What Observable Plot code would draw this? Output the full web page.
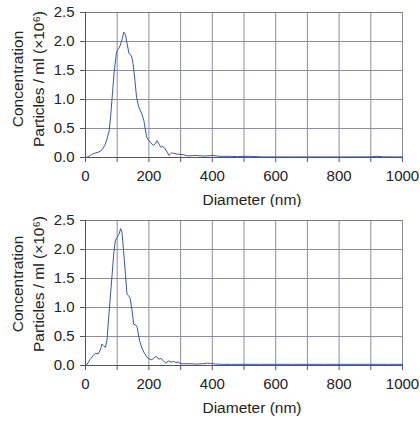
<!DOCTYPE html>
<html>
<head>
<meta charset="utf-8">
<script src="https://cdn.jsdelivr.net/npm/d3@7"></script>
<script src="https://cdn.jsdelivr.net/npm/@observablehq/plot@0.6"></script>
<style>
  html, body { margin: 0; padding: 0; background: #fff; }
  #chart { width: 420px; }
  #chart svg { display: block; }
</style>
</head>
<body>
<div id="chart"></div>
<script>
// Sample 1 (top panel): diameter (nm) and concentration (×10^6 particles/ml)
const topDiameter = [0, 8, 19, 29, 40, 50, 61, 68, 75, 80, 85, 90, 98, 105, 110, 116, 121, 126, 131, 137, 145, 150, 156, 161, 168, 177, 184, 193, 200, 206, 214, 219, 226, 232, 237, 243, 250, 258, 263, 272, 279, 288, 298, 308, 319, 330, 345, 360, 375, 390, 405, 415, 425, 440, 460, 480, 500, 520, 540, 560, 600, 650, 700, 750, 800, 850, 900, 920, 940, 980, 1000];
const topConc = [0.005, 0.01, 0.05, 0.075, 0.09, 0.12, 0.21, 0.32, 0.47, 0.76, 1.1, 1.45, 1.82, 1.88, 1.94, 2.05, 2.16, 2.12, 1.97, 1.8, 1.75, 1.62, 1.33, 1.04, 0.87, 0.76, 0.64, 0.35, 0.29, 0.25, 0.21, 0.23, 0.29, 0.23, 0.18, 0.19, 0.16, 0.09, 0.035, 0.08, 0.07, 0.06, 0.055, 0.05, 0.03, 0.03, 0.035, 0.03, 0.025, 0.03, 0.035, 0.025, 0.02, 0.02, 0.02, 0.015, 0.02, 0.02, 0.015, 0.01, 0.01, 0.01, 0.01, 0.01, 0.01, 0.01, 0.012, 0.02, 0.012, 0.01, 0.01];

// Sample 2 (bottom panel)
const bottomDiameter = [3, 14, 24, 31, 40, 47, 52, 57, 63, 68, 73, 79, 84, 89, 94, 100, 106, 111, 115, 120, 126, 131, 136, 141, 147, 152, 158, 163, 171, 178, 186, 194, 202, 209, 214, 223, 230, 238, 246, 254, 261, 270, 278, 285, 292, 301, 317, 330, 350, 370, 385, 395, 410, 430, 460, 500, 550, 600, 650, 700, 750, 800, 850, 900, 950, 1000];
const bottomConc = [0.01, 0.1, 0.17, 0.21, 0.2, 0.27, 0.37, 0.34, 0.31, 0.45, 0.82, 1.23, 1.57, 1.92, 2.15, 2.21, 2.27, 2.36, 2.3, 1.98, 1.57, 1.23, 1.2, 1.16, 0.94, 0.71, 0.7, 0.66, 0.42, 0.3, 0.21, 0.14, 0.11, 0.1, 0.12, 0.16, 0.11, 0.12, 0.08, 0.04, 0.08, 0.06, 0.07, 0.05, 0.06, 0.03, 0.03, 0.03, 0.025, 0.03, 0.04, 0.035, 0.025, 0.02, 0.02, 0.02, 0.02, 0.02, 0.02, 0.02, 0.02, 0.02, 0.02, 0.02, 0.02, 0.02];

const xTicks = [0, 100, 200, 300, 400, 500, 600, 700, 800, 900, 1000];
const xLabelTicks = [0, 200, 400, 600, 800, 1000];
const yTicks = [0, 0.5, 1.0, 1.5, 2.0, 2.5];
const xTitle = "Diameter (nm)";
const yTitle = "Concentration\nParticles / ml (×10⁶)";

const FONT = "'Liberation Sans', Arial, Helvetica, sans-serif";
const GRID = "#8c8ca2";
const AXIS = "#555";
const LINE = "#3a56a8";

function panel(diam, conc, opts) {
  const data = diam.map((d, i) => ({d, v: conc[i]}));
  return Plot.plot({
    width: 420,
    height: opts.height,
    marginLeft: 85,
    marginRight: 18,
    marginTop: opts.marginTop,
    marginBottom: opts.height - opts.marginTop - 145,
    style: {fontFamily: FONT, fontSize: "15px", color: "#222", background: "#fff"},
    x: {domain: [0, 1000]},
    y: {domain: [0, 2.5]},
    marks: [
      Plot.gridX(xTicks, {stroke: GRID, strokeOpacity: 1}),
      Plot.gridY(yTicks, {stroke: GRID, strokeOpacity: 1}),
      Plot.ruleY([2.5], {stroke: "#7a7a7a"}),
      Plot.axisX(xTicks, {
        tickSize: 5, tickPadding: 8, stroke: AXIS,
        tickFormat: d => (xLabelTicks.includes(d) ? String(d) : ""),
        label: null, fontSize: 15, fill: "#222"
      }),
      Plot.axisY(yTicks, {
        tickSize: 5, tickPadding: 6, stroke: AXIS,
        tickFormat: d3.format(".1f"), label: null, fontSize: 15, fill: "#222"
      }),
      Plot.ruleX([0], {stroke: AXIS}),
      Plot.ruleY([0], {stroke: AXIS}),
      Plot.line(data, {x: "d", y: "v", stroke: LINE, strokeWidth: 1}),
      Plot.text([xTitle], {
        frameAnchor: "bottom", lineAnchor: "top", dy: 36, dx: 8,
        fontSize: 15.5, fill: "#222"
      }),
      Plot.text([yTitle], {
        frameAnchor: "left", rotate: -90, dx: -59, dy: opts.labelDy,
        lineHeight: 1.4, textAnchor: "middle", fontSize: 15.5, fill: "#222"
      })
    ]
  });
}

const root = document.getElementById("chart");
root.append(panel(topDiameter, topConc, {height: 207, marginTop: 12, labelDy: -6}));
root.append(panel(bottomDiameter, bottomConc, {height: 214, marginTop: 13, labelDy: -9}));
</script>
</body>
</html>
